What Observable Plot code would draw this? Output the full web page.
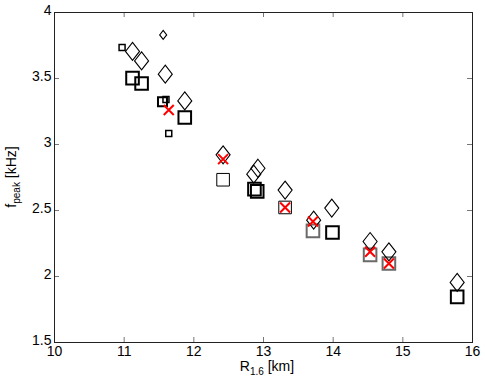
<!DOCTYPE html>
<html>
<head>
<meta charset="utf-8">
<script src="https://cdn.jsdelivr.net/npm/d3@7"></script>
<script src="https://cdn.jsdelivr.net/npm/@observablehq/plot@0.6"></script>
<style>
  html, body { margin: 0; padding: 0; background: #fff; }
</style>
</head>
<body>
<div id="chart"></div>
<script>
// ---- data ----
const xTicks = [10, 11, 12, 13, 14, 15, 16];
const yTicks = [1.5, 2, 2.5, 3, 3.5, 4];

// large diamonds
const diamondR = [11.12, 11.25, 11.59, 11.87, 12.42, 12.86, 12.92, 13.31, 13.72, 13.98, 14.53, 14.80, 15.78];
const diamondF = [3.705, 3.633, 3.533, 3.330, 2.922, 2.775, 2.820, 2.655, 2.427, 2.518, 2.265, 2.187, 1.955];
// small diamond
const smallDiamondR = [11.56];
const smallDiamondF = [3.830];
// large squares, bold outline
const boldSquareR = [11.12, 11.25, 11.87, 12.87, 12.91, 13.99, 15.78];
const boldSquareF = [3.503, 3.462, 3.205, 2.662, 2.645, 2.333, 1.846];
// medium square, bold outline
const midSquareR = [11.55];
const midSquareF = [3.323];
// large squares, thin outline
const thinSquareR = [12.42, 13.31];
const thinSquareF = [2.733, 2.523];
// large squares, grey outline
const greySquareR = [13.71, 14.53, 14.80];
const greySquareF = [2.346, 2.164, 2.098];
// small squares
const smallSquareR = [10.97, 11.60, 11.64];
const smallSquareF = [3.735, 3.340, 3.083];
// red crosses
const crossR = [11.64, 12.42, 13.31, 13.71, 14.53, 14.80];
const crossF = [3.261, 2.889, 2.523, 2.417, 2.187, 2.098];

const pts = (xs, ys) => xs.map((x, i) => ({R: x, f: ys[i]}));

// ---- custom MATLAB-like symbols ----
const diamondSym = {
  draw(ctx, size) {
    const r = Math.sqrt(size / Math.PI);
    const w = r * 0.78;
    ctx.moveTo(0, -r); ctx.lineTo(w, 0); ctx.lineTo(0, r); ctx.lineTo(-w, 0); ctx.closePath();
  }
};
const squareSym = {
  draw(ctx, size) {
    const r = Math.sqrt(size / Math.PI);
    ctx.moveTo(-r, -r); ctx.lineTo(r, -r); ctx.lineTo(r, r); ctx.lineTo(-r, r); ctx.closePath();
  }
};
const crossSym = {
  draw(ctx, size) {
    const r = Math.sqrt(size / Math.PI);
    ctx.moveTo(-r, -r); ctx.lineTo(r, r); ctx.moveTo(r, -r); ctx.lineTo(-r, r);
  }
};

const W = 485, H = 382;
const mL = 54, mR = 13, mT = 12, mB = 40;
const innerW = W - mL - mR, innerH = H - mT - mB;
const tickLen = 5;
const tickColor = "#777";

const chart = Plot.plot({
  width: W,
  height: H,
  marginLeft: mL,
  marginRight: mR,
  marginTop: mT,
  marginBottom: mB,
  x: {domain: [10, 16]},
  y: {domain: [1.5, 4]},
  style: {fontFamily: "'Liberation Sans', Arial, Helvetica, sans-serif", fontSize: "14px", background: "#fff", color: "#000"},
  marks: [
    Plot.axisX(xTicks, {tickSize: 0, tickPadding: 4, label: null, tickFormat: d => String(d), fill: "#000"}),
    Plot.axisY(yTicks, {tickSize: 0, tickPadding: 3, label: null, tickFormat: d => String(d), fill: "#000", dy: -2}),
    // inward ticks on all four sides
    Plot.tickX(xTicks.slice(1, -1), {x: d => d, insetTop: innerH - tickLen, stroke: tickColor}),
    Plot.tickX(xTicks.slice(1, -1), {x: d => d, insetBottom: innerH - tickLen, stroke: tickColor}),
    Plot.tickY(yTicks.slice(1, -1), {y: d => d, insetRight: innerW - tickLen, stroke: tickColor}),
    Plot.tickY(yTicks.slice(1, -1), {y: d => d, insetLeft: innerW - tickLen, stroke: tickColor}),
    Plot.frame({stroke: "#222", strokeWidth: 1}),
    // squares
    Plot.dot(pts(greySquareR, greySquareF), {x: "R", y: "f", symbol: squareSym, r: 6.3, fill: "none", stroke: "#6a6a6a", strokeWidth: 2}),
    Plot.dot(pts(thinSquareR, thinSquareF), {x: "R", y: "f", symbol: squareSym, r: 6.3, fill: "none", stroke: "#000", strokeWidth: 1}),
    Plot.dot(pts(boldSquareR, boldSquareF), {x: "R", y: "f", symbol: squareSym, r: 6.3, fill: "none", stroke: "#000", strokeWidth: 2}),
    Plot.dot(pts(midSquareR, midSquareF), {x: "R", y: "f", symbol: squareSym, r: 4.5, fill: "none", stroke: "#000", strokeWidth: 2}),
    Plot.dot(pts(smallSquareR, smallSquareF), {x: "R", y: "f", symbol: squareSym, r: 3, fill: "none", stroke: "#000", strokeWidth: 1.5}),
    // diamonds
    Plot.dot(pts(diamondR, diamondF), {x: "R", y: "f", symbol: diamondSym, r: 9, fill: "none", stroke: "#000", strokeWidth: 1.1}),
    Plot.dot(pts(smallDiamondR, smallDiamondF), {x: "R", y: "f", symbol: diamondSym, r: 4.5, fill: "none", stroke: "#000", strokeWidth: 1.1}),
    // red crosses
    Plot.dot(pts(crossR, crossF), {x: "R", y: "f", symbol: crossSym, r: 5, fill: "none", stroke: "#ff0000", strokeWidth: 2})
  ]
});

const svg = d3.select(chart);
const font = "'Liberation Sans', Arial, Helvetica, sans-serif";
// x label with subscript
const xl = svg.append("text")
  .attr("x", mL + innerW / 2 + 4)
  .attr("y", 371)
  .attr("text-anchor", "middle")
  .attr("font-family", font)
  .attr("font-size", 14)
  .attr("fill", "#000");
xl.append("tspan").text("R");
xl.append("tspan").attr("font-size", 10).attr("dy", 4).text("1.6");
xl.append("tspan").attr("dy", -4).text(" [km]");

// y label with subscript
const yl = svg.append("text")
  .attr("transform", `translate(16,${mT + innerH / 2}) rotate(-90)`)
  .attr("text-anchor", "middle")
  .attr("font-family", font)
  .attr("font-size", 14)
  .attr("fill", "#000");
yl.append("tspan").text("f");
yl.append("tspan").attr("font-size", 10).attr("dy", 4).text("peak");
yl.append("tspan").attr("dy", -4).text(" [kHz]");

document.getElementById("chart").appendChild(chart);
</script>
</body>
</html>
